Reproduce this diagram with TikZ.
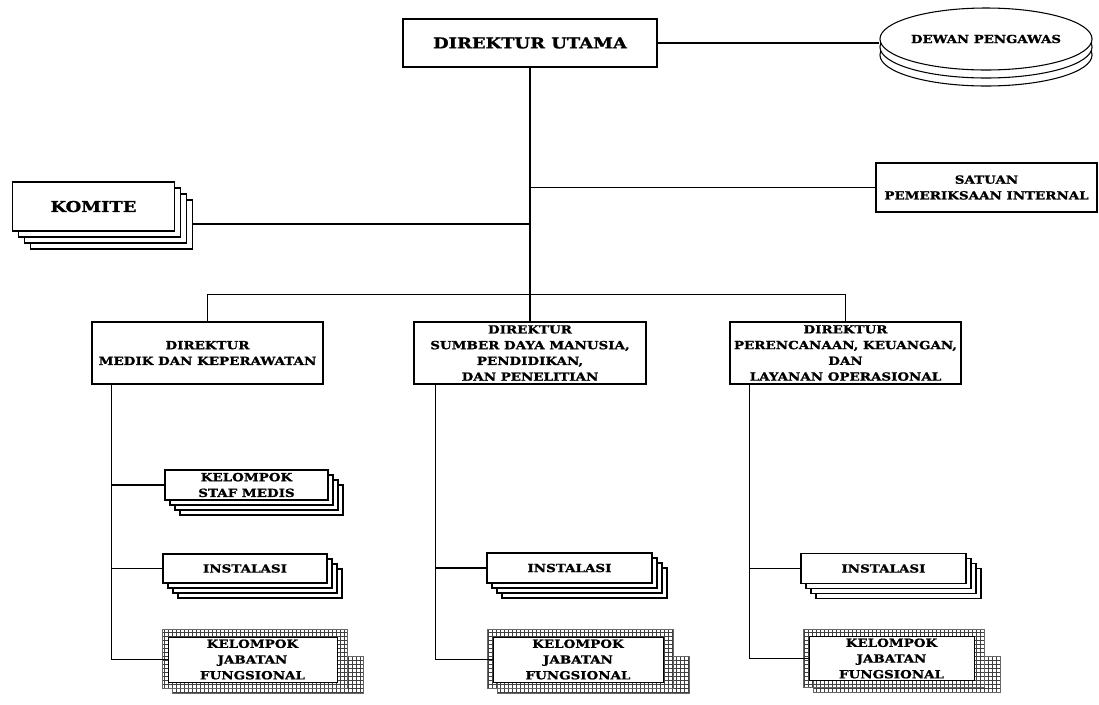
\documentclass[tikz,border=0pt]{standalone}
\usepackage{fontspec}
\setmainfont{DejaVu Serif}[BoldFont={DejaVu Serif Bold}, BoldFeatures={FakeBold=1.2}, FakeStretch=1.2]
\usetikzlibrary{shapes.geometric,shadows,patterns,backgrounds}

\tikzset{
  orgbox/.style={draw, line width=0.8pt, fill=white, align=center, inner sep=0pt,
    font=\bfseries\fontsize{8.4}{11.8}\selectfont},
  layer/.style={draw=black, fill=white, line width=0.8pt},
  stack/.style={
    copy shadow={layer, shadow xshift=3*#1, shadow yshift=-3*#1},
    copy shadow={layer, shadow xshift=2*#1, shadow yshift=-2*#1},
    copy shadow={layer, shadow xshift=#1, shadow yshift=-#1}},
  disk/.style={ellipse, draw, line width=0.8pt, fill=white, inner sep=0pt,
    minimum width=159pt, minimum height=46.5pt,
    copy shadow={layer, shadow xshift=0pt, shadow yshift=-12pt},
    copy shadow={layer, shadow xshift=0pt, shadow yshift=-6pt},
    font=\bfseries\fontsize{8.3}{10}\selectfont},
  gridfill/.style={pattern=grid, pattern color=black!75, draw=black!60, line width=0.3pt},
  line/.style={line width=0.8pt}
}

\begin{document}
\begin{tikzpicture}[x=0.75pt,y=0.75pt,yscale=-1,xscale=1]
\useasboundingbox (0,0) rectangle (1099,704);

%Top level
\node[orgbox, minimum width=190.5pt, minimum height=36pt, font=\bfseries\fontsize{11.2}{13}\selectfont] (dirut) at (530,43) {DIREKTUR UTAMA};
\node[disk] (dewan) at (986,39) {DEWAN PENGAWAS};
\node[orgbox, minimum width=165.75pt, minimum height=36.75pt] (spi) at (986.5,187.5) {SATUAN\\PEMERIKSAAN INTERNAL};
\node[orgbox, stack=4.5pt, minimum width=122pt, minimum height=36.75pt, font=\bfseries\fontsize{11.2}{14}\selectfont] (komite) at (93.5,206.5) {KOMITE};

%Directors
\node[orgbox, minimum width=173.25pt, minimum height=46.5pt] (dirmed) at (207.5,353) {DIREKTUR\\MEDIK DAN KEPERAWATAN};
\node[orgbox, minimum width=174pt, minimum height=46.5pt] (dirsdm) at (530,353) {DIREKTUR\\SUMBER DAYA MANUSIA,\\PENDIDIKAN,\\DAN PENELITIAN};
\node[orgbox, minimum width=173.25pt, minimum height=46.5pt] (dirplo) at (845.5,353) {DIREKTUR\\PERENCANAAN, KEUANGAN,\\DAN\\LAYANAN OPERASIONAL};

%Units
\node[orgbox, stack=3.75pt, minimum width=122.25pt, minimum height=22.5pt] (stafmed) at (246.5,485) {KELOMPOK\\STAF MEDIS};
\node[orgbox, stack=3.75pt, minimum width=123pt, minimum height=21.75pt] (instmed) at (245,568.5) {INSTALASI};
\node[orgbox, stack=3.75pt, minimum width=123.75pt, minimum height=22.5pt] (instsdm) at (569.5,568) {INSTALASI};
\node[orgbox, stack=3.75pt, minimum width=123.75pt, minimum height=22.5pt] (instplo) at (883.5,568.5) {INSTALASI};
\node[orgbox, line width=0.6pt, minimum width=126.75pt, minimum height=33.75pt] (kjfmed) at (252.5,659.5) {KELOMPOK\\JABATAN\\FUNGSIONAL};
\node[orgbox, line width=0.6pt, minimum width=127.5pt, minimum height=33.75pt] (kjfsdm) at (578,659.5) {KELOMPOK\\JABATAN\\FUNGSIONAL};
\node[orgbox, line width=0.6pt, minimum width=123.75pt, minimum height=33pt] (kjfplo) at (891.5,658.5) {KELOMPOK\\JABATAN\\FUNGSIONAL};

%Grid frames
\begin{scope}[on background layer]
\foreach \k in {kjfmed,kjfsdm,kjfplo}{
  \path[gridfill] ([shift={(5,20)}]\k.north west) rectangle ([shift={(26,11)}]\k.south east);
  \path[gridfill] ([shift={(-5,-7)}]\k.north west) rectangle ([shift={(10,6)}]\k.south east);
}
\end{scope}

%Connectors
\draw[line] (dirut.east) -- (dirut.east -| dewan.west);
\draw[line] (dirut.south) -- (dirsdm.north);
\draw[line] (dirut.south |- spi.west) -- (spi.west);
\coordinate (komiteR) at ([shift={(18,17.5)}]komite.east);
\draw[line] (komiteR) -- (komiteR -| dirut.south);
\draw[line] (dirmed.north) -- ++(0,-27) -| (dirplo.north);

\coordinate (medL) at ([shift={(20,0)}]dirmed.south west);
\coordinate (sdmL) at ([shift={(22,0)}]dirsdm.south west);
\coordinate (ploL) at ([shift={(20,0)}]dirplo.south west);
\draw[line] (medL) |- (kjfmed.west);
\draw[line] (medL |- stafmed.west) -- (stafmed.west);
\draw[line] (medL |- instmed.west) -- (instmed.west);
\draw[line] (sdmL) |- (kjfsdm.west);
\draw[line] (sdmL |- instsdm.west) -- (instsdm.west);
\draw[line] (ploL) |- (kjfplo.west);
\draw[line] (ploL |- instplo.west) -- (instplo.west);

\end{tikzpicture}
\end{document}
